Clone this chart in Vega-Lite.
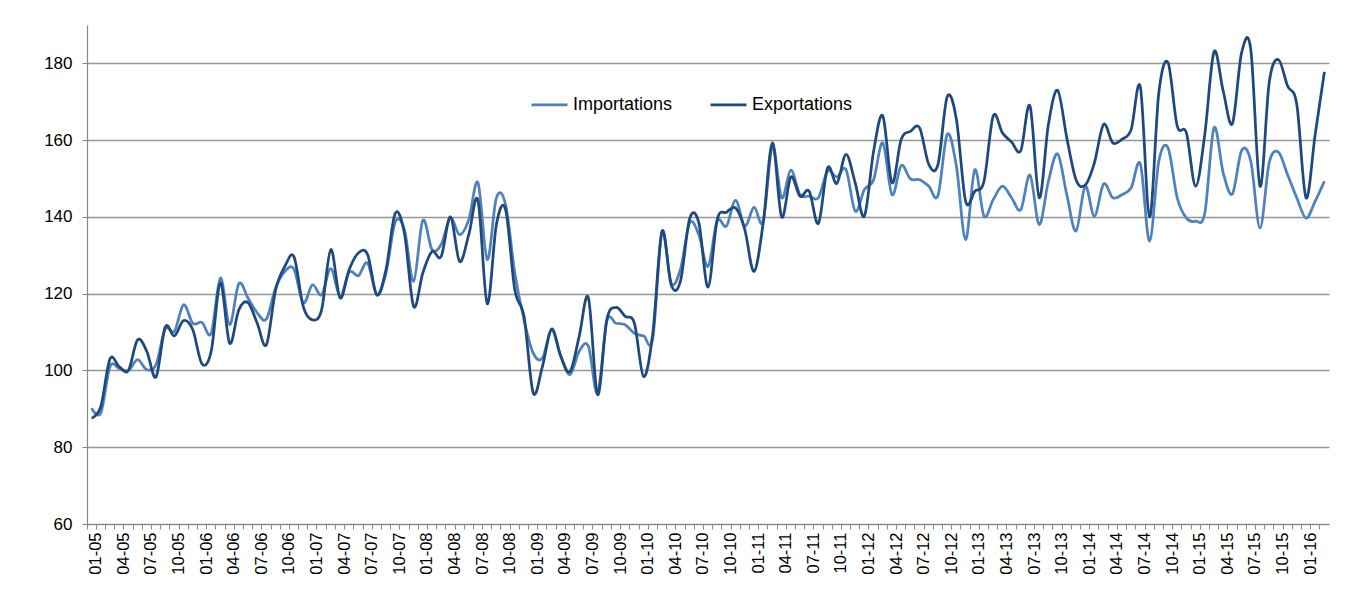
{
  "$schema": "https://vega.github.io/schema/vega-lite/v6.json",
  "autosize": {"type": "none"},
  "padding": {"left": 87, "top": 25, "right": 30, "bottom": 77},
  "width": 1242,
  "height": 499,
  "background": "white",
  "config": {
    "font": "Liberation Sans",
    "view": {"stroke": null}
  },
  "data": {"values": [
    {"m":"01-05","Importations":90.2,"Exportations":87.6},
    {"m":"02-05","Importations":88.9,"Exportations":90.6},
    {"m":"03-05","Importations":101,"Exportations":103},
    {"m":"04-05","Importations":100.5,"Exportations":101},
    {"m":"05-05","Importations":100,"Exportations":100},
    {"m":"06-05","Importations":102.8,"Exportations":108},
    {"m":"07-05","Importations":100.2,"Exportations":105},
    {"m":"08-05","Importations":101.5,"Exportations":98.3},
    {"m":"09-05","Importations":110.8,"Exportations":111.3},
    {"m":"10-05","Importations":110.2,"Exportations":109},
    {"m":"11-05","Importations":117.1,"Exportations":113},
    {"m":"12-05","Importations":112.3,"Exportations":110.6},
    {"m":"01-06","Importations":112.5,"Exportations":101.7},
    {"m":"02-06","Importations":109.7,"Exportations":105},
    {"m":"03-06","Importations":124.1,"Exportations":122.8},
    {"m":"04-06","Importations":111.9,"Exportations":107.1},
    {"m":"05-06","Importations":122.6,"Exportations":115.8},
    {"m":"06-06","Importations":118.9,"Exportations":117.7},
    {"m":"07-06","Importations":115,"Exportations":112.3},
    {"m":"08-06","Importations":113.4,"Exportations":106.7},
    {"m":"09-06","Importations":121.5,"Exportations":121},
    {"m":"10-06","Importations":125.8,"Exportations":127.1},
    {"m":"11-06","Importations":126.4,"Exportations":129.6},
    {"m":"12-06","Importations":117.6,"Exportations":116.7},
    {"m":"01-07","Importations":122.3,"Exportations":113.2},
    {"m":"02-07","Importations":119.7,"Exportations":115.8},
    {"m":"03-07","Importations":126.5,"Exportations":131.5},
    {"m":"04-07","Importations":119.3,"Exportations":118.9},
    {"m":"05-07","Importations":125.6,"Exportations":126.3},
    {"m":"06-07","Importations":124.7,"Exportations":130.6},
    {"m":"07-07","Importations":128,"Exportations":130.2},
    {"m":"08-07","Importations":119.7,"Exportations":119.7},
    {"m":"09-07","Importations":125.4,"Exportations":126.3},
    {"m":"10-07","Importations":138.6,"Exportations":140.9},
    {"m":"11-07","Importations":136.7,"Exportations":135.8},
    {"m":"12-07","Importations":123.2,"Exportations":116.7},
    {"m":"01-08","Importations":139.1,"Exportations":125.4},
    {"m":"02-08","Importations":131.5,"Exportations":131},
    {"m":"03-08","Importations":132.8,"Exportations":129.7},
    {"m":"04-08","Importations":139.7,"Exportations":140},
    {"m":"05-08","Importations":135.4,"Exportations":128.4},
    {"m":"06-08","Importations":139.3,"Exportations":135.4},
    {"m":"07-08","Importations":148.9,"Exportations":144.3},
    {"m":"08-08","Importations":128.9,"Exportations":117.4},
    {"m":"09-08","Importations":145,"Exportations":138},
    {"m":"10-08","Importations":143.2,"Exportations":141.9},
    {"m":"11-08","Importations":125.4,"Exportations":121},
    {"m":"12-08","Importations":113.2,"Exportations":114.1},
    {"m":"01-09","Importations":104.5,"Exportations":94.2},
    {"m":"02-09","Importations":103.2,"Exportations":101},
    {"m":"03-09","Importations":110.6,"Exportations":110.8},
    {"m":"04-09","Importations":103.7,"Exportations":103.7},
    {"m":"05-09","Importations":98.9,"Exportations":99.7},
    {"m":"06-09","Importations":105,"Exportations":108.9},
    {"m":"07-09","Importations":106.3,"Exportations":118.9},
    {"m":"08-09","Importations":94.1,"Exportations":93.7},
    {"m":"09-09","Importations":112.8,"Exportations":113.2},
    {"m":"10-09","Importations":112.3,"Exportations":116.4},
    {"m":"11-09","Importations":111.9,"Exportations":114.1},
    {"m":"12-09","Importations":109.7,"Exportations":112.3},
    {"m":"01-10","Importations":109,"Exportations":98.4},
    {"m":"02-10","Importations":108.4,"Exportations":109.7},
    {"m":"03-10","Importations":136,"Exportations":136.3},
    {"m":"04-10","Importations":122.8,"Exportations":122.3},
    {"m":"05-10","Importations":126.3,"Exportations":123.2},
    {"m":"06-10","Importations":138.4,"Exportations":139.5},
    {"m":"07-10","Importations":135.4,"Exportations":138.5},
    {"m":"08-10","Importations":127.1,"Exportations":121.7},
    {"m":"09-10","Importations":138.9,"Exportations":139.3},
    {"m":"10-10","Importations":137.6,"Exportations":141.2},
    {"m":"11-10","Importations":144.3,"Exportations":142.3},
    {"m":"12-10","Importations":137.6,"Exportations":136.7},
    {"m":"01-11","Importations":142.5,"Exportations":125.8},
    {"m":"02-11","Importations":138.9,"Exportations":138.4},
    {"m":"03-11","Importations":158.4,"Exportations":159.3},
    {"m":"04-11","Importations":145,"Exportations":140},
    {"m":"05-11","Importations":152.2,"Exportations":150.4},
    {"m":"06-11","Importations":145.8,"Exportations":145.4},
    {"m":"07-11","Importations":145.4,"Exportations":146.7},
    {"m":"08-11","Importations":145,"Exportations":138.3},
    {"m":"09-11","Importations":151.9,"Exportations":152.8},
    {"m":"10-11","Importations":150.4,"Exportations":148.7},
    {"m":"11-11","Importations":152.3,"Exportations":156.3},
    {"m":"12-11","Importations":141.5,"Exportations":148.9},
    {"m":"01-12","Importations":147.1,"Exportations":140.2},
    {"m":"02-12","Importations":149.7,"Exportations":157.1},
    {"m":"03-12","Importations":159.3,"Exportations":166.3},
    {"m":"04-12","Importations":145.8,"Exportations":148.9},
    {"m":"05-12","Importations":153.4,"Exportations":160.2},
    {"m":"06-12","Importations":149.9,"Exportations":162.3},
    {"m":"07-12","Importations":149.7,"Exportations":163.2},
    {"m":"08-12","Importations":148,"Exportations":153.7},
    {"m":"09-12","Importations":145.6,"Exportations":153.7},
    {"m":"10-12","Importations":161.5,"Exportations":171.3},
    {"m":"11-12","Importations":153.2,"Exportations":165.4},
    {"m":"12-12","Importations":134.1,"Exportations":144.1},
    {"m":"01-13","Importations":152.3,"Exportations":146.7},
    {"m":"02-13","Importations":140.2,"Exportations":149.3},
    {"m":"03-13","Importations":144.5,"Exportations":166.3},
    {"m":"04-13","Importations":148,"Exportations":161.9},
    {"m":"05-13","Importations":145,"Exportations":159.5},
    {"m":"06-13","Importations":141.9,"Exportations":157.3},
    {"m":"07-13","Importations":150.9,"Exportations":168.9},
    {"m":"08-13","Importations":138,"Exportations":145},
    {"m":"09-13","Importations":149.3,"Exportations":164.1},
    {"m":"10-13","Importations":156.4,"Exportations":173},
    {"m":"11-13","Importations":145.8,"Exportations":160.6},
    {"m":"12-13","Importations":136.3,"Exportations":149.7},
    {"m":"01-14","Importations":148,"Exportations":148.3},
    {"m":"02-14","Importations":140.2,"Exportations":154.1},
    {"m":"03-14","Importations":148.6,"Exportations":164.1},
    {"m":"04-14","Importations":145,"Exportations":159.3},
    {"m":"05-14","Importations":145.8,"Exportations":160.2},
    {"m":"06-14","Importations":147.6,"Exportations":162.8},
    {"m":"07-14","Importations":153.8,"Exportations":173.8},
    {"m":"08-14","Importations":133.7,"Exportations":140},
    {"m":"09-14","Importations":154.5,"Exportations":172.3},
    {"m":"10-14","Importations":158,"Exportations":180.2},
    {"m":"11-14","Importations":145,"Exportations":163.7},
    {"m":"12-14","Importations":139.7,"Exportations":161.9},
    {"m":"01-15","Importations":138.9,"Exportations":148},
    {"m":"02-15","Importations":141,"Exportations":161.5},
    {"m":"03-15","Importations":163.2,"Exportations":183},
    {"m":"04-15","Importations":151.5,"Exportations":172.8},
    {"m":"05-15","Importations":146,"Exportations":164.3},
    {"m":"06-15","Importations":157.3,"Exportations":182.8},
    {"m":"07-15","Importations":154.5,"Exportations":183.6},
    {"m":"08-15","Importations":137.1,"Exportations":148},
    {"m":"09-15","Importations":154.1,"Exportations":175},
    {"m":"10-15","Importations":156.9,"Exportations":181},
    {"m":"11-15","Importations":151,"Exportations":174.1},
    {"m":"12-15","Importations":145,"Exportations":169.3},
    {"m":"01-16","Importations":139.7,"Exportations":145},
    {"m":"02-16","Importations":144.1,"Exportations":161.5},
    {"m":"03-16","Importations":149.3,"Exportations":177.8}
  ]},
  "transform": [
    {"fold": ["Importations", "Exportations"], "as": ["serie", "valeur"]}
  ],
  "mark": {"type": "line", "interpolate": "cardinal", "strokeWidth": 2.75},
  "encoding": {
    "x": {
      "field": "m",
      "type": "ordinal",
      "sort": null,
      "scale": {"type": "band", "paddingInner": 0, "paddingOuter": 0},
      "axis": {
        "title": null,
        "bandPosition": 0,
        "labelOffset": 4.6,
        "labelAngle": -90,
        "labelAlign": "right",
        "labelBaseline": "middle",
        "labelFontSize": 16.5,
        "labelColor": "#000000",
        "labelPadding": 3,
        "labelOverlap": false,
        "labelExpr": "indexof(['01','04','07','10'], substring(datum.label,0,2)) >= 0 ? datum.label : ''",
        "tickSize": 5,
        "tickColor": "#868686",
        "tickWidth": 1,
        "domainColor": "#868686",
        "domainWidth": 1.2,
        "grid": false
      }
    },
    "y": {
      "field": "valeur",
      "type": "quantitative",
      "scale": {"domain": [60, 190], "nice": false, "zero": false},
      "axis": {
        "title": null,
        "values": [60, 80, 100, 120, 140, 160, 180],
        "labelFontSize": 17,
        "labelColor": "#000000",
        "labelPadding": 10,
        "tickSize": 5,
        "tickColor": "#868686",
        "domainColor": "#868686",
        "domainWidth": 1.2,
        "grid": true,
        "gridColor": "#969696",
        "gridWidth": 1.5
      }
    },
    "color": {
      "field": "serie",
      "type": "nominal",
      "scale": {"domain": ["Importations", "Exportations"], "range": ["#4F81BD", "#1F497D"]},
      "legend": {
        "title": null,
        "orient": "none",
        "direction": "horizontal",
        "legendX": 443,
        "legendY": 60,
        "symbolType": "stroke",
        "symbolSize": 1296,
        "symbolStrokeWidth": 2.75,
        "labelFontSize": 18,
        "labelColor": "#000000",
        "labelOffset": 4,
        "columnPadding": 32
      }
    }
  }
}
